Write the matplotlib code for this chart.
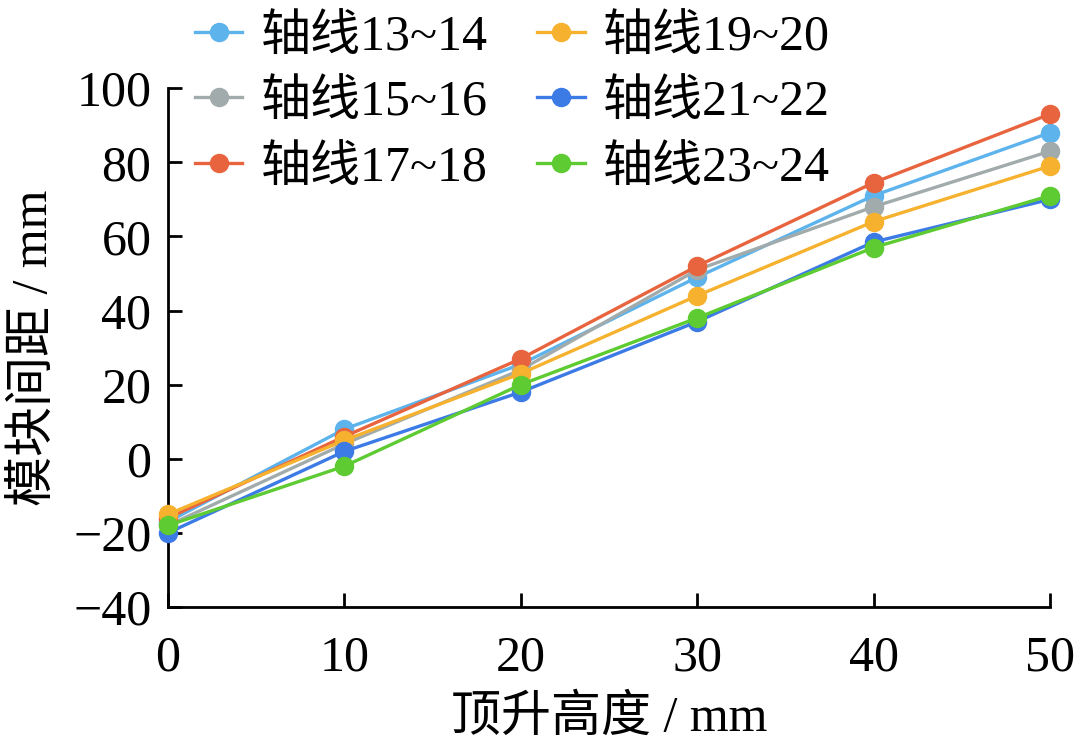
import matplotlib.pyplot as plt

# === DATA ===
heights = [0, 10, 20, 30, 40, 50]
labels = ["轴线13~14", "轴线15~16", "轴线17~18",
          "轴线19~20", "轴线21~22", "轴线23~24"]
s13_14 = [-17, 8, 25.5, 49, 71, 88]
s15_16 = [-18, 4, 24, 51, 68, 83]
s17_18 = [-16, 6, 27, 52, 74.5, 93]
s19_20 = [-15, 5, 23, 44, 64, 79]
s21_22 = [-20, 2, 18, 37, 58.5, 70]
s23_24 = [-18, -2, 20, 38, 57, 71]
series = [s13_14, s15_16, s17_18, s19_20, s21_22, s23_24]
colors = ["#5DB3EC", "#A2ABAB", "#E8643E", "#F6B22F", "#3C7AE6", "#5DCB31"]

FONT = ["Liberation Serif", "Noto Sans CJK SC"]
plt.rcParams['font.family'] = FONT
plt.rcParams['font.size'] = 36

fig = plt.figure(figsize=(10.8, 7.54), dpi=100)
ax = fig.add_axes([0.1556, 0.195, 0.8166, 0.688])

for vals, lab, c in zip(series, labels, colors):
    ax.plot(heights, vals, color=c, lw=2.4, marker='o', markersize=13,
            label=lab, clip_on=False, zorder=3)

ax.set_xlim(0, 50)
ax.set_ylim(-40, 100)
ax.set_xticks(heights)
ax.set_yticks(range(-40, 101, 20))
ax.set_yticklabels(["\u221240", "\u221220", "0", "20", "40", "60", "80", "100"])
ax.spines['top'].set_visible(False)
ax.spines['right'].set_visible(False)
ax.spines['left'].set_linewidth(2)
ax.spines['bottom'].set_linewidth(2)
ax.tick_params(direction='in', length=10, width=2)
ax.tick_params(axis='x', pad=20)
ax.tick_params(axis='y', pad=12)

ax.set_xlabel("顶升高度 / mm", labelpad=10)
ax.set_ylabel("模块间距 / mm", labelpad=10)

handles, labs = ax.get_legend_handles_labels()
fig.legend(handles, labs, ncol=2, frameon=False,
           loc='upper left', bbox_to_anchor=(0.162, 1.008),
           handlelength=0.95, handletextpad=0.36, columnspacing=1.0,
           labelspacing=0.38, borderaxespad=0)

fig.savefig("out.png", dpi=100)
